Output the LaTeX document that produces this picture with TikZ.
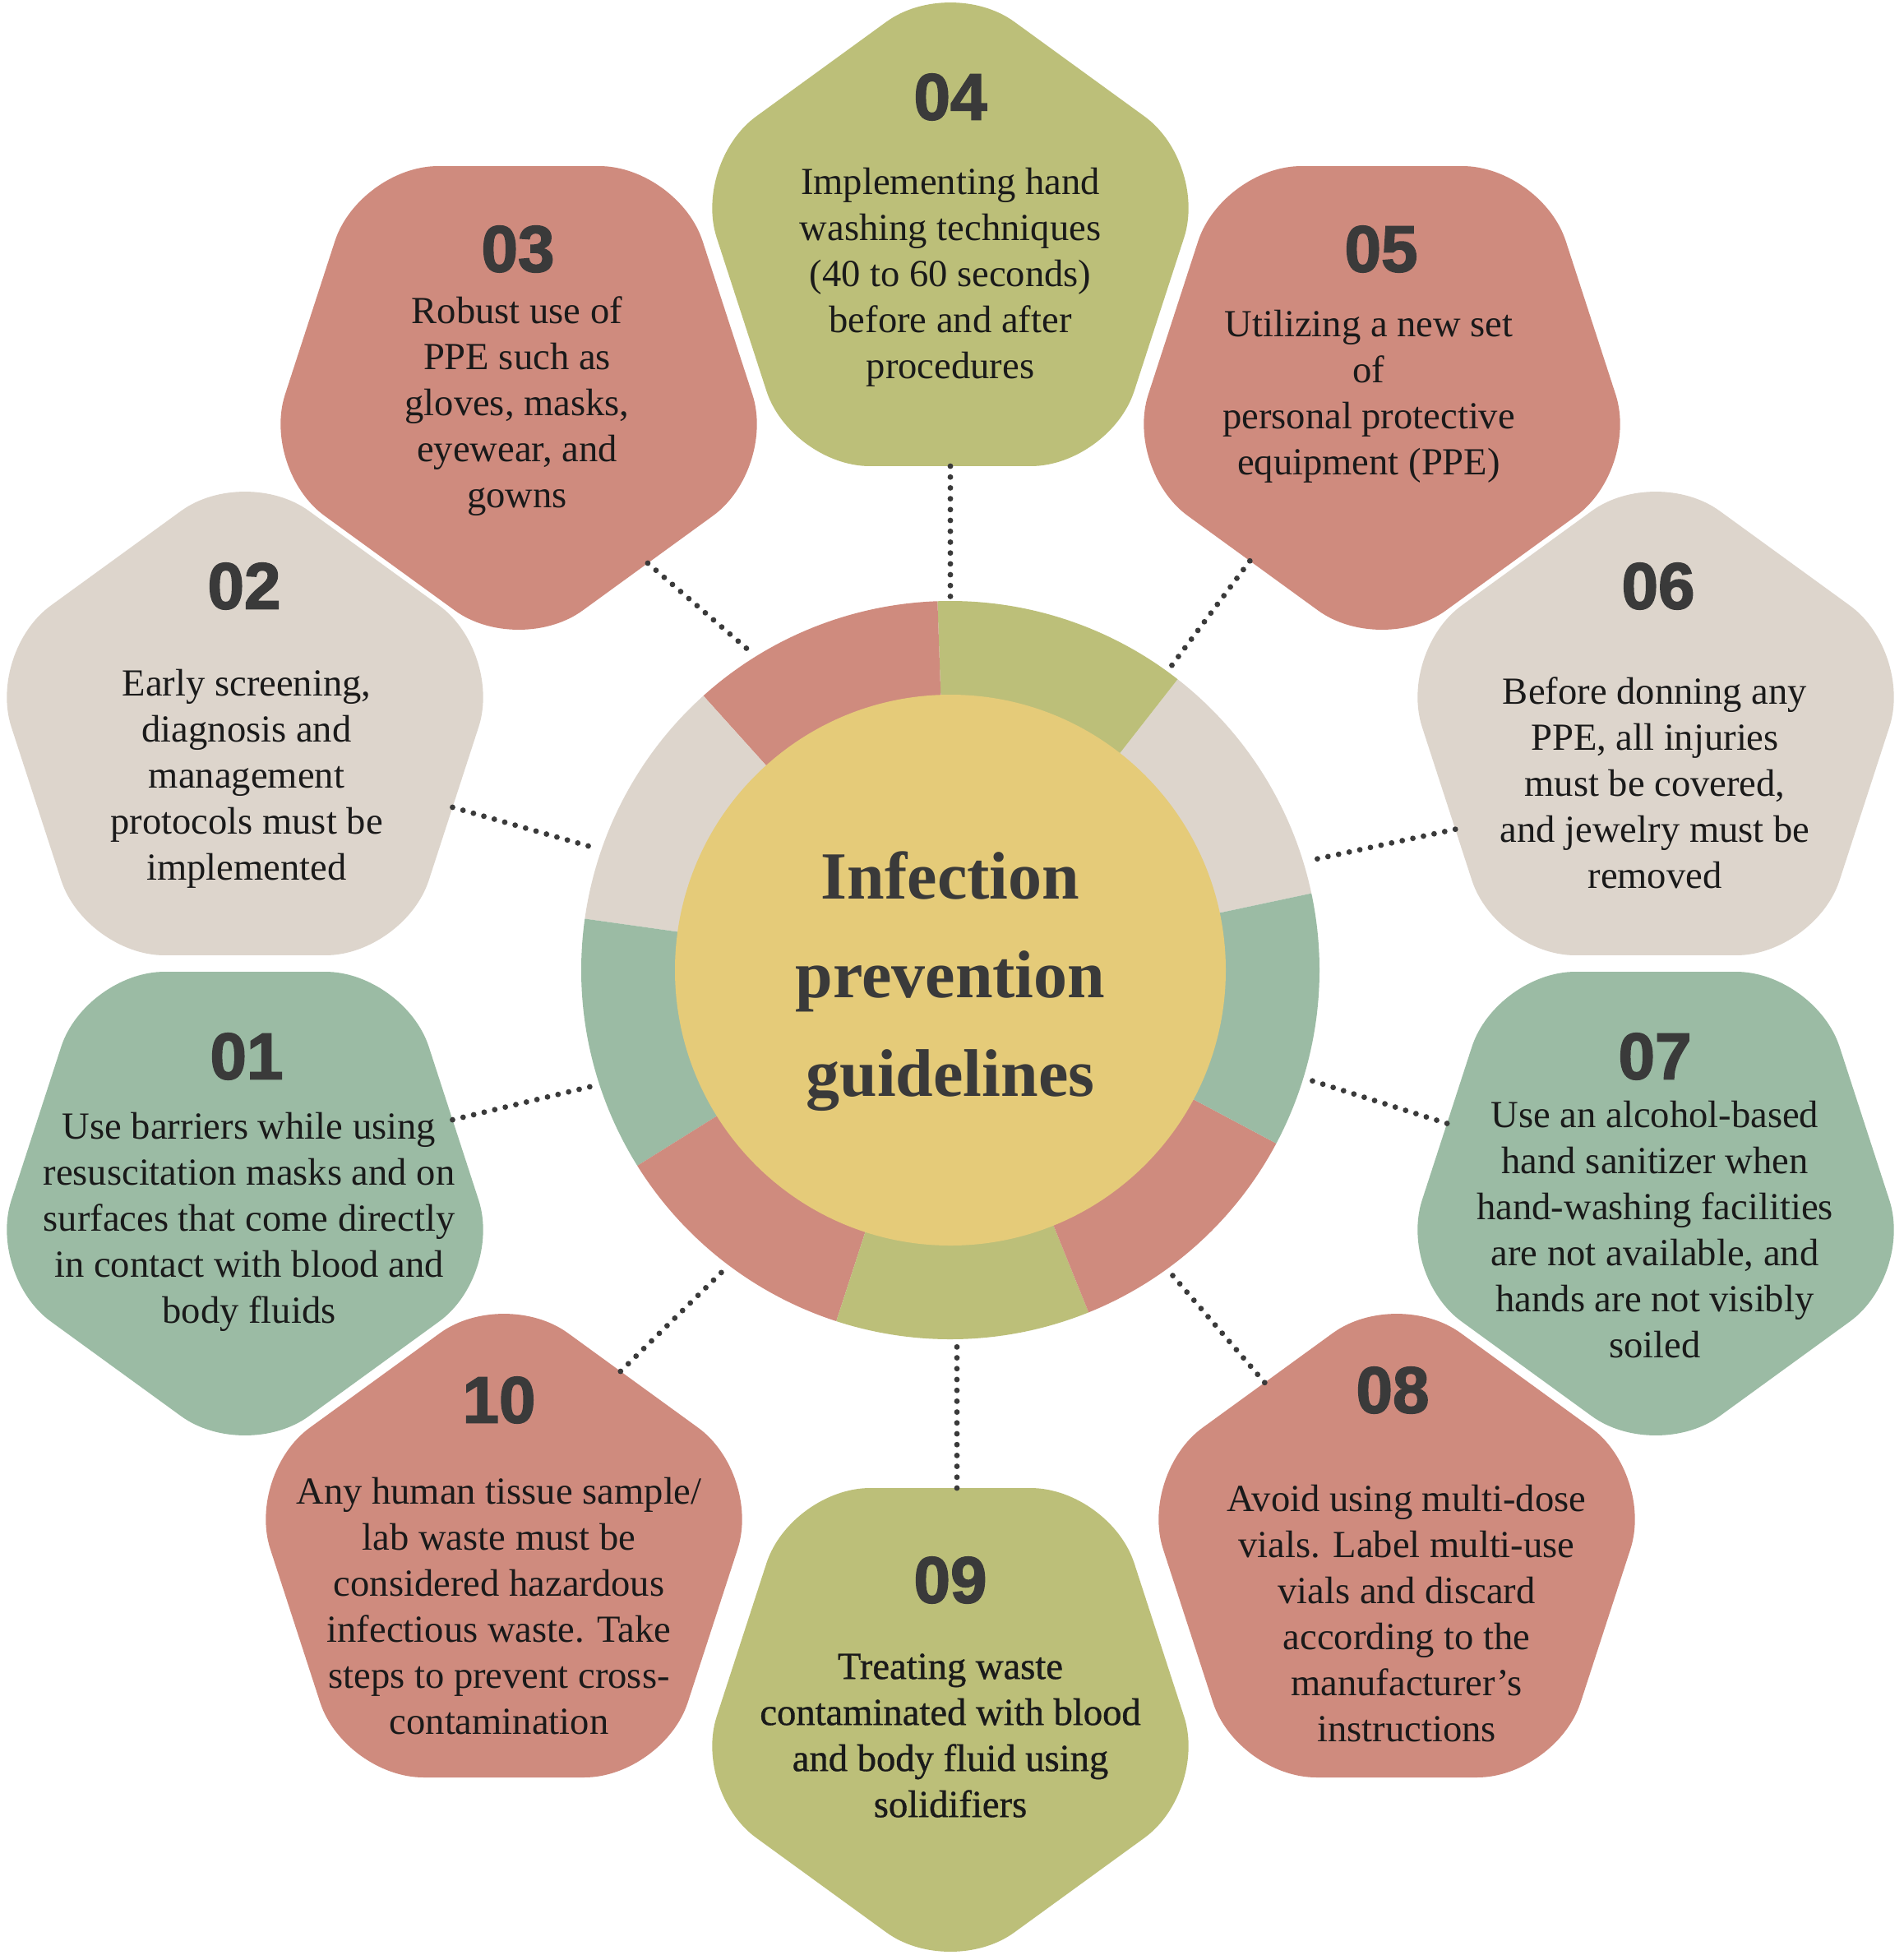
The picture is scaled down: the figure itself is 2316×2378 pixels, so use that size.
\documentclass[tikz,border=0pt]{standalone}
\usepackage{fontspec}
\setmainfont{Liberation Serif}
\newfontface\numfont{Liberation Sans Bold}[FakeBold=2]
\newfontface\boldishfont{Liberation Serif}[FakeBold=0.8]
\usetikzlibrary{shapes.geometric}
\definecolor{cred}{HTML}{CF8B7E}
\definecolor{cgreen}{HTML}{BCBF79}
\definecolor{cbeige}{HTML}{DDD5CC}
\definecolor{cteal}{HTML}{9BBBA4}
\definecolor{cyellow}{HTML}{E5CB79}
\definecolor{cnum}{HTML}{3A3A3A}
\definecolor{ctext}{HTML}{1A1A1A}
\definecolor{cdot}{HTML}{3A3A3A}
\begin{document}
\begin{tikzpicture}[x=0.5pt, y=-0.5pt,
  pent/.style={regular polygon, regular polygon sides=5, minimum size=330pt,
    inner sep=0pt, outer sep=0pt, rounded corners=48pt},
  down/.style={shape border rotate=180},
  num/.style={font=\numfont\fontsize{40}{40}\selectfont, text=cnum, inner sep=0pt},
  txt/.style={align=center, font=\fontsize{23.3}{28}\selectfont, text=ctext, inner sep=0pt},
  dotline/.style={draw=cdot, line width=3.4pt, line cap=round, dash pattern=on 0pt off 6.6pt}]
\fill[white] (0,0) rectangle (2316,2378);
\useasboundingbox (0,0) rectangle (2316,2378);

% ring
\begin{scope}[shift={(1156,1180)}, yscale=-1]
\fill[cbeige] (0,0) -- (12:449) arc[start angle=12, end angle=52, radius=449] -- cycle;
\fill[cgreen] (0,0) -- (52:449) arc[start angle=52, end angle=92, radius=449] -- cycle;
\fill[cred] (0,0) -- (92:449) arc[start angle=92, end angle=132, radius=449] -- cycle;
\fill[cbeige] (0,0) -- (132:449) arc[start angle=132, end angle=172, radius=449] -- cycle;
\fill[cteal] (0,0) -- (172:449) arc[start angle=172, end angle=212, radius=449] -- cycle;
\fill[cred] (0,0) -- (212:449) arc[start angle=212, end angle=252, radius=449] -- cycle;
\fill[cgreen] (0,0) -- (252:449) arc[start angle=252, end angle=292, radius=449] -- cycle;
\fill[cred] (0,0) -- (292:449) arc[start angle=292, end angle=332, radius=449] -- cycle;
\fill[cteal] (0,0) -- (332:449) arc[start angle=332, end angle=372, radius=449] -- cycle;
\end{scope}
\node[circle, minimum size=454pt, inner sep=0pt, outer sep=0pt] (ring) at (1156,1180) {};
\node[circle, fill=cyellow, minimum size=335pt, inner sep=0pt] (hub) at (1156,1180) {};
\node[align=center, font=\bfseries\fontsize{41}{60}\selectfont, text=cnum, inner sep=0pt] (title) at (1156,1194) {Infection\\prevention\\guidelines};

% pentagons
\node[pent, fill=cgreen] (p04) at (1156,300) {};
\node[pent, down, fill=cred] (p03) at (631,469) {};
\node[pent, down, fill=cred] (p05) at (1681,469) {};
\node[pent, fill=cbeige] (p02) at (298,895) {};
\node[pent, fill=cbeige] (p06) at (2014,895) {};
\node[pent, down, fill=cteal] (p01) at (298,1449) {};
\node[pent, down, fill=cteal] (p07) at (2014,1449) {};
\node[pent, fill=cred] (p10) at (613,1895) {};
\node[pent, fill=cred] (p08) at (1699,1895) {};
\node[pent, down, fill=cgreen] (p09) at (1156,2077) {};

% connectors
\draw[dotline] (p04.-90) -- (ring.90);
\draw[dotline] (p05.233) -- (ring.54);
\draw[dotline] (p06.205) -- (ring.17);
\draw[dotline] (p07.162) -- (ring.-17);
\draw[dotline] (p08.127) -- (ring.-54);
\draw[dotline] ([xshift=4pt]p09.90) -- ([xshift=4pt]ring.-90);
\draw[dotline] (p10.58) -- (ring.-127);
\draw[dotline] (p01.19) -- (ring.-162);
\draw[dotline] (p02.-19) -- (ring.161);
\draw[dotline] (p03.-54) -- (ring.122);

% numbers
\node[num] (n04) at (1156,118) {04};
\node[num] (n03) at (630,303) {03};
\node[num] (n05) at (1680,303) {05};
\node[num] (n02) at (297,713) {02};
\node[num] (n06) at (2017,713) {06};
\node[num] (n01) at (300,1285) {01};
\node[num] (n07) at (2013,1285) {07};
\node[num] (n10) at (607,1703) {10};
\node[num] (n08) at (1694,1691) {08};
\node[num] (n09) at (1156,1922) {09};

% texts
\node[txt] (t04) at (1156,337) {Implementing hand\\washing techniques\\(40 to 60 seconds)\\before and after\\procedures};
\node[txt] (t03) at (629,494) {Robust use of\\PPE such as\\gloves, masks,\\eyewear, and\\gowns};
\node[txt] (t05) at (1665,482) {Utilizing a new set\\of\\personal protective\\equipment (PPE)};
\node[txt] (t02) at (300,947) {Early screening,\\diagnosis and\\management\\protocols must be\\implemented};
\node[txt] (t06) at (2013,952) {Before donning any\\PPE, all injuries\\must be covered,\\and jewelry must be\\removed};
\node[txt] (t01) at (303,1486) {Use barriers while using\\resuscitation masks and on\\surfaces that come directly\\in contact with blood and\\body fluids};
\node[txt] (t07) at (2013,1496) {Use an alcohol-based\\hand sanitizer when\\hand-washing facilities\\are not available, and\\hands are not visibly\\soiled};
\node[txt] (t10) at (607,1954) {Any human tissue sample/\\lab waste must be\\considered hazardous\\infectious waste. Take\\steps to prevent cross-\\contamination};
\node[txt] (t08) at (1711,1963) {Avoid using multi-dose\\vials. Label multi-use\\vials and discard\\according to the\\manufacturer’s\\instructions};
\node[txt, font=\boldishfont\fontsize{23.3}{28}\selectfont] (t09) at (1156,2111) {Treating waste\\contaminated with blood\\and body fluid using\\solidifiers};
\end{tikzpicture}
\end{document}
